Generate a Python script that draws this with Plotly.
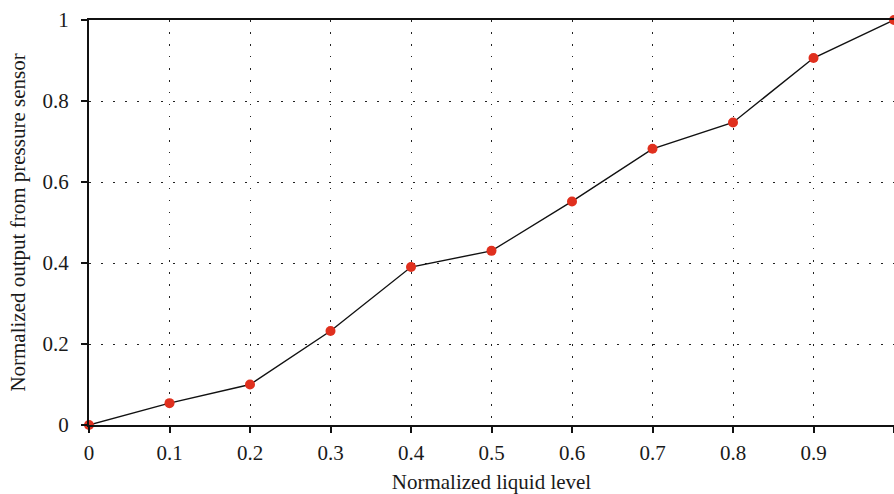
import plotly.graph_objects as go

# Normalized liquid level vs. normalized pressure-sensor output
level = [0, 0.1, 0.2, 0.3, 0.4, 0.5, 0.6, 0.7, 0.8, 0.9, 1.0]
sensor_output = [0, 0.054, 0.100, 0.232, 0.390, 0.430, 0.552, 0.682, 0.747, 0.906, 1.0]

x_ticks = [0, 0.1, 0.2, 0.3, 0.4, 0.5, 0.6, 0.7, 0.8, 0.9, 1]
x_tick_text = ["0", "0.1", "0.2", "0.3", "0.4", "0.5", "0.6", "0.7", "0.8", "0.9", "1"]
y_ticks = [0, 0.2, 0.4, 0.6, 0.8, 1]
y_tick_text = ["0", "0.2", "0.4", "0.6", "0.8", "1"]

FONT = "Liberation Serif, DejaVu Serif, serif"
TEXT_COLOR = "#1a1a1a"

fig = go.Figure(
    go.Scatter(
        x=level,
        y=sensor_output,
        mode="lines+markers",
        line=dict(color="#111111", width=1.4),
        marker=dict(color="#e0301e", size=10),
        cliponaxis=False,
        showlegend=False,
    )
)

axis_common = dict(
    showgrid=True,
    gridcolor="#222222",
    griddash="1.5px,10.5px",
    gridwidth=1.2,
    showline=True,
    linecolor="#111111",
    linewidth=2,
    ticks="outside",
    ticklen=6,
    tickcolor="#111111",
    tickwidth=1.5,
    zeroline=False,
    automargin=False,
    tickfont=dict(family=FONT, size=21, color=TEXT_COLOR),
)

fig.update_xaxes(
    **axis_common,
    range=[0, 1],
    tickvals=x_ticks,
    ticktext=x_tick_text,
    mirror=True,
    ticklabelstandoff=2,
    title=dict(text="Normalized liquid level", font=dict(family=FONT, size=21, color=TEXT_COLOR), standoff=14),
)
fig.update_yaxes(
    **axis_common,
    range=[0, 1],
    tickvals=y_ticks,
    ticktext=y_tick_text,
    ticklabelstandoff=8,
    title=dict(text="Normalized output from pressure sensor", font=dict(family=FONT, size=21, color=TEXT_COLOR), standoff=11),
)

fig.update_layout(
    width=894,
    height=494,
    margin=dict(l=89, r=0, t=20, b=69),
    plot_bgcolor="white",
    paper_bgcolor="white",
    template=None,
)

fig.write_html("out.html")
